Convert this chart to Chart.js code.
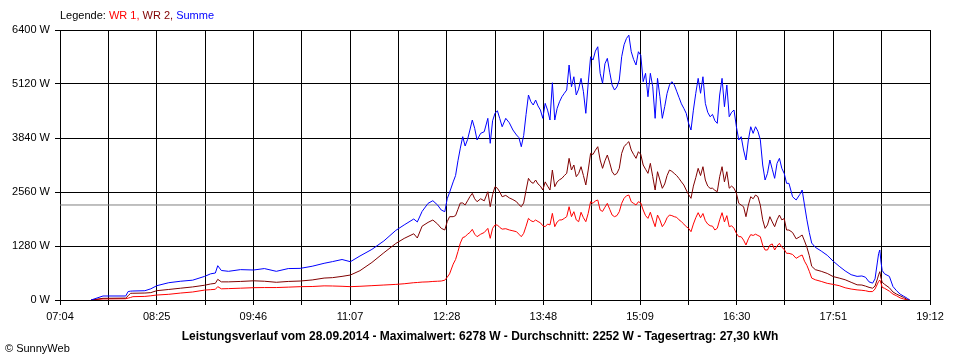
<!DOCTYPE html>
<html>
<head>
<meta charset="utf-8">
<script src="https://cdn.jsdelivr.net/npm/chart.js@4/dist/chart.umd.min.js"></script>
<style>
html,body{margin:0;padding:0;background:#fff;}
#wrap{width:960px;height:360px;position:relative;}
</style>
</head>
<body>
<div id="wrap"><canvas id="c" width="960" height="360"></canvas></div>
<script>
// ---- data ----
const times = ["07:30","07:40","07:59","08:01","08:03","08:05","08:15","08:20","08:25","08:35","08:45","08:55","09:05","09:10","09:14","09:16","09:19","09:25","09:35","09:46","09:55","10:05","10:15","10:25","10:35","10:45","10:52","11:00","11:07","11:15","11:25","11:35","11:45","11:52","12:00","12:03","12:07","12:12","12:16","12:20","12:23","12:26","12:28","12:30","12:33","12:35","12:37","12:39","12:41","12:43","12:45","12:47","12:49","12:51","12:53","12:56","12:59","13:02","13:04","13:06","13:08","13:10","13:12","13:14","13:17","13:20","13:23","13:26","13:28","13:30","13:32","13:34","13:36","13:38","13:40","13:42","13:44","13:46","13:48","13:50","13:52","13:54","13:56","13:58","14:00","14:02","14:04","14:06","14:08","14:10","14:12","14:14","14:16","14:18","14:20","14:22","14:24","14:26","14:28","14:30","14:32","14:34","14:36","14:38","14:40","14:42","14:44","14:46","14:48","14:50","14:52","14:54","14:56","14:58","15:00","15:02","15:04","15:06","15:08","15:10","15:12","15:14","15:16","15:18","15:20","15:22","15:24","15:26","15:28","15:30","15:32","15:34","15:36","15:38","15:40","15:42","15:44","15:46","15:48","15:50","15:52","15:54","15:56","15:58","16:00","16:02","16:04","16:06","16:08","16:10","16:12","16:14","16:16","16:18","16:20","16:22","16:24","16:26","16:28","16:30","16:32","16:34","16:36","16:38","16:40","16:42","16:44","16:46","16:48","16:50","16:52","16:54","16:56","16:58","17:00","17:02","17:04","17:06","17:08","17:10","17:12","17:14","17:17","17:20","17:23","17:25","17:27","17:29","17:31","17:33","17:36","17:41","17:46","17:51","17:56","18:01","18:06","18:11","18:15","18:18","18:21","18:24","18:26","18:28","18:29","18:30","18:31","18:32","18:34","18:38","18:41","18:44","18:47","18:50","18:53","18:55"];

const summe = [0,95,95,200,210,213,220,265,339,410,445,470,560,620,640,813,700,680,720,711,745,680,745,750,800,870,910,960,908,1043,1200,1400,1650,1780,1920,1850,2100,2291,2354,2250,2133,2093,2400,2550,2800,2950,3300,3600,3871,3650,3800,4029,4266,4069,3792,3950,3990,4306,3714,4250,4425,4486,4300,4107,4306,4200,4029,3911,3850,3633,3900,4400,4859,4700,4622,4740,4600,4503,4306,4661,4500,4266,5150,4266,4543,4700,4818,4900,4977,5570,5055,5292,4859,5000,5254,4937,4425,5136,5766,5688,5900,6003,5373,5136,5600,5728,5400,5095,4977,5050,5214,5766,6050,6200,6278,5885,5700,5570,5885,5800,5175,5373,4818,5373,5055,4306,5254,4818,4306,4582,4898,5095,5175,5100,4950,4800,4650,4543,4425,4187,4029,4500,4900,5254,4900,5292,4661,4450,4344,4400,4250,4187,4859,5254,4582,5095,4344,4450,4503,4107,3792,3871,3555,3318,3792,4107,3950,4107,4000,3800,3200,2844,3002,3318,3100,2884,3239,3358,3121,3000,2765,2765,2448,2370,2500,2607,2250,1900,1600,1350,1250,1160,1060,920,800,690,600,560,570,540,430,400,500,900,1100,1185,900,700,620,560,320,220,140,90,40,0];

const wr2 = [0,40,45,100,158,160,165,175,221,250,280,310,350,380,395,490,430,430,440,455,445,420,440,450,475,520,530,560,592,695,890,1120,1340,1460,1570,1470,1750,1840,1896,1800,1700,1659,1856,1975,1975,2000,2150,2300,2300,2252,2350,2450,2528,2400,2330,2400,2350,2567,2211,2500,2686,2650,2560,2448,2480,2420,2380,2330,2260,2211,2300,2600,2884,2800,2765,2844,2750,2700,2607,2800,2700,2607,3081,2686,2800,2850,2884,2950,3002,3358,3081,3200,2923,3000,3160,2950,2726,3081,3476,3450,3550,3634,3318,3121,3300,3437,3250,3041,2963,3000,3121,3476,3634,3700,3753,3555,3450,3358,3515,3450,3200,3100,3002,3239,2923,2607,3041,2844,2647,2750,2950,3081,3050,3000,2950,2880,2800,2726,2607,2500,2410,2700,2900,3121,2950,3160,2844,2700,2647,2650,2600,2567,2923,3160,2800,3041,2650,2700,2650,2528,2291,2250,2211,1975,2250,2448,2400,2488,2450,2250,1900,1698,1780,1975,1850,1738,1900,2014,1900,1930,1659,1659,1600,1450,1500,1541,1400,1250,1050,800,720,680,630,555,520,480,420,360,355,330,300,280,330,500,600,671,520,420,371,290,190,140,100,60,10,0];

const wr1 = [0,25,30,45,60,79,85,100,118,135,165,190,235,245,253,316,265,270,280,292,295,295,305,316,320,335,332,325,316,325,340,355,370,385,410,415,425,430,440,445,450,470,540,620,850,960,1150,1350,1480,1500,1560,1600,1675,1560,1501,1560,1600,1698,1462,1700,1778,1778,1720,1680,1690,1660,1640,1619,1560,1501,1580,1750,1935,1880,1856,1896,1860,1830,1760,1738,1800,1780,2054,1738,1850,1896,1900,1935,1975,2211,1975,2093,1900,1856,2080,1950,1856,2054,2330,2291,2350,2370,2133,2100,2200,2291,2150,2014,1975,2000,2093,2291,2410,2470,2488,2330,2290,2252,2330,2300,2133,2000,1935,2080,1900,1738,2014,1896,1738,1820,1950,2014,2000,1975,1960,1900,1856,1800,1738,1700,1619,1800,1950,2070,1950,2050,1880,1800,1760,1750,1659,1700,1900,2070,1850,2000,1738,1760,1700,1580,1501,1500,1420,1304,1450,1550,1530,1560,1530,1501,1300,1185,1185,1300,1330,1185,1280,1343,1250,1200,1106,1106,1080,988,1040,1067,920,820,680,520,480,440,395,370,340,290,260,240,230,220,200,200,260,380,440,474,400,300,277,210,140,100,50,24,0,0];

const xTickLabels = ["07:04","08:25","09:46","11:07","12:28","13:48","15:09","16:30","17:51","19:12"];
const yTickValues = [0,1280,2560,3840,5120,6400];
const average = 2252;
const titleText = "Leistungsverlauf vom 28.09.2014 - Maximalwert: 6278 W - Durchschnitt: 2252 W - Tagesertrag: 27,30 kWh";
const legendParts = [["Legende: ","#000000"],["WR 1, ","#ff0000"],["WR 2, ","#800000"],["Summe","#0000ff"]];
const copyright = "\u00A9 SunnyWeb";

// ---- helpers ----
const START = 7*60+4, END = 19*60+12, SPAN = END-START;
const toMin = s => { const p = s.split(':').map(Number); return p[0]*60+p[1]-START; };
const pts = arr => times.map((t,i)=>({x:toMin(t), y:arr[i]}));

const FONT = "'Liberation Sans', Arial, sans-serif";
Chart.defaults.font.family = FONT;
Chart.defaults.font.size = 11;
Chart.defaults.color = '#000';

const textPlugin = {
  id:'texts',
  afterDraw(chart){
    const ctx = chart.ctx;
    ctx.save();
    ctx.textBaseline = 'middle';
    ctx.font = "11px " + FONT;
    let x = 60;
    for (const [t,c] of legendParts){ ctx.fillStyle = c; ctx.fillText(t, x, 16); x += ctx.measureText(t).width; }
    ctx.fillStyle = '#000';
    ctx.font = "bold 12px " + FONT;
    ctx.textAlign = 'center';
    ctx.fillText(titleText, 480, 337);
    ctx.textAlign = 'left';
    ctx.font = "11px " + FONT;
    ctx.fillText(copyright, 5, 349);
    ctx.restore();
  }
};

new Chart(document.getElementById('c'), {
  type:'line',
  data:{
    datasets:[
      {label:'Summe', data:pts(summe), borderColor:'#0000ff', borderWidth:1, pointRadius:0, tension:0, fill:false},
      {label:'WR 2', data:pts(wr2), borderColor:'#800000', borderWidth:1, pointRadius:0, tension:0, fill:false},
      {label:'WR 1', data:pts(wr1), borderColor:'#ff0000', borderWidth:1, pointRadius:0, tension:0, fill:false},
      {label:'Durchschnitt', data:[{x:0,y:average},{x:SPAN,y:average}], borderColor:'#808080', borderWidth:1, pointRadius:0, tension:0, fill:false}
    ]
  },
  options:{
    responsive:false, animation:false, maintainAspectRatio:false,
    layout:{padding:{left:0, top:30, right:30, bottom:0}},
    plugins:{legend:{display:false}, tooltip:{enabled:false}, title:{display:false}},
    scales:{
      x:{
        type:'linear', min:0, max:SPAN,
        afterFit(s){ s.height = 60; },
        afterBuildTicks(s){ s.ticks = Array.from({length:19},(_,i)=>({value:i*SPAN/18})); },
        ticks:{autoSkip:false, maxRotation:0, padding:5, color:'#000',
          callback:(v,i)=> i%2===0 ? xTickLabels[i/2] : ''},
        grid:{color:'#000', lineWidth:1, tickLength:5, drawTicks:true},
        border:{color:'#000', width:1}
      },
      y:{
        min:0, max:6400,
        afterFit(s){ s.width = 60; },
        afterBuildTicks(s){ s.ticks = yTickValues.map(v=>({value:v})); },
        ticks:{padding:5, color:'#000', callback:v=> v+' W'},
        grid:{color:'#000', lineWidth:1, tickLength:5},
        border:{color:'#000', width:1}
      }
    }
  },
  plugins:[textPlugin]
});
</script>
</body>
</html>
